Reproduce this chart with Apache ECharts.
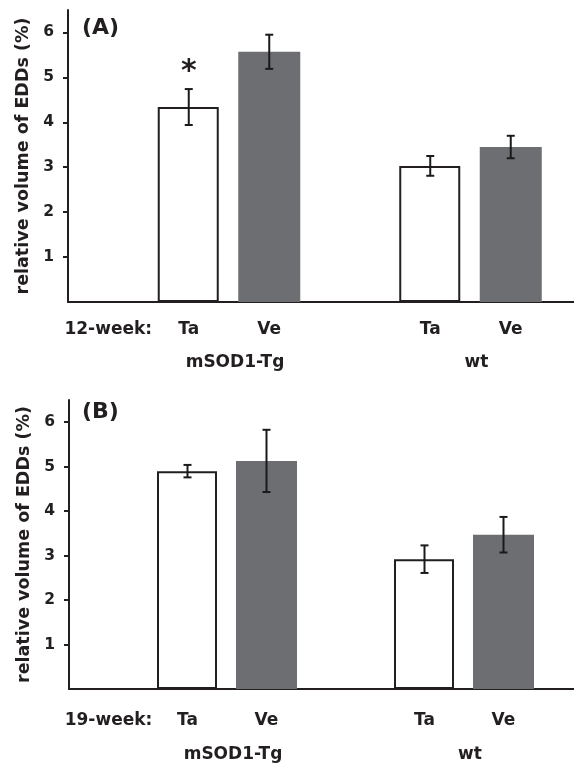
<!DOCTYPE html>
<html>
<head>
<meta charset="utf-8">
<script src="https://cdn.jsdelivr.net/npm/echarts@6/dist/echarts.min.js"></script>
<style>
  html, body { margin: 0; padding: 0; background: #fff; }
  #chart { width: 574px; height: 763px; }
</style>
</head>
<body>
<div id="chart"></div>
<script>
// ---------- data ----------
const panelLabels = ['(A)', '(B)'];
const weekLabels = ['12-week:', '19-week:'];
const groups = ['mSOD1-Tg', 'wt'];
const treatments = ['Ta', 'Ve'];
const yTicks = [1, 2, 3, 4, 5, 6];
const yAxisName = 'relative volume of EDDs (%)';

// panel A (12-week)
const taMeanA = [4.34, 3.03];
const taErrA  = [0.40, 0.22];
const veMeanA = [5.57, 3.45];
const veErrA  = [0.38, 0.25];
const taSigA  = ['*', ''];
const veSigA  = ['', ''];

// panel B (19-week)
const taMeanB = [4.90, 2.92];
const taErrB  = [0.14, 0.31];
const veMeanB = [5.13, 3.47];
const veErrB  = [0.70, 0.40];
const taSigB  = ['', ''];
const veSigB  = ['', ''];

// ---------- styling / layout ----------
const INK = '#231f20';
const GRAY = '#6d6e71';
const FONT = 'DejaVu Sans';
const panels = [
  { week: weekLabels[0], title: panelLabels[0], ta: taMeanA, taE: taErrA, ve: veMeanA, veE: veErrA, taS: taSigA, veS: veSigA,
    grid: { left: 68, top: 10, height: 292, right: 0 }, slotPx: 80.5, titleTop: 17, barWidth: 61, catMargin: 19, grpMargin: 52 },
  { week: weekLabels[1], title: panelLabels[1], ta: taMeanB, taE: taErrB, ve: veMeanB, veE: veErrB, taS: taSigB, veS: veSigB,
    grid: { left: 69, top: 400, height: 290.5, right: 0 }, slotPx: 79, titleTop: 401, barWidth: 60, catMargin: 23, grpMargin: 57 }
];
const CHART_W = 574;

// category slots: week label, then groups separated by a blank slot
function buildCategories(week) {
  const cats = [week];
  groups.forEach((g, gi) => {
    if (gi > 0) cats.push('');
    treatments.forEach(t => cats.push(t));
  });
  return cats;
}

const option = {
  animation: false,
  backgroundColor: '#fff',
  title: [], grid: [], xAxis: [], yAxis: [], series: []
};

panels.forEach((p, pi) => {
  const cats = buildCategories(p.week);
  const catCenters = cats.map((c, i) => i + 0.5);
  const xMax = (CHART_W - p.grid.left) / p.slotPx;   // axis runs to the right edge
  const slots = groups.map((g, gi) => treatments.map((t, ti) => 1 + gi * (treatments.length + 1) + ti));
  const taData = [], veData = [], errData = [], sigs = [];
  groups.forEach((g, gi) => {
    const xt = catCenters[slots[gi][0]], xv = catCenters[slots[gi][1]];
    taData.push([xt, p.ta[gi]]);
    veData.push([xv, p.ve[gi]]);
    errData.push([xt, p.ta[gi], p.taE[gi]]); sigs.push(p.taS[gi]);
    errData.push([xv, p.ve[gi], p.veE[gi]]); sigs.push(p.veS[gi]);
  });
  const groupCenters = slots.map(s => (catCenters[s[0]] + catCenters[s[s.length - 1]]) / 2);

  option.title.push({
    text: p.title, left: 82, top: p.titleTop, padding: 0,
    textStyle: { fontFamily: FONT, fontWeight: 'bold', fontSize: 22, color: INK }
  });
  option.grid.push(Object.assign({ containLabel: false }, p.grid));

  option.xAxis.push({
    type: 'value', gridIndex: pi, position: 'bottom', min: 0, max: xMax,
    axisLine: { show: true, onZero: false, lineStyle: { color: INK, width: 2 } },
    axisTick: { show: false },
    axisLabel: { customValues: catCenters, margin: p.catMargin, color: INK,
      fontFamily: FONT, fontWeight: 'bold', fontSize: 17,
      formatter: v => cats[Math.round(v - 0.5)] || '' },
    splitLine: { show: false }
  });
  option.xAxis.push({
    type: 'value', gridIndex: pi, position: 'bottom', min: 0, max: xMax,
    axisLine: { show: false }, axisTick: { show: false }, splitLine: { show: false },
    axisLabel: {
      customValues: groupCenters, margin: p.grpMargin,
      formatter: v => {
        const gi = groupCenters.findIndex(c => Math.abs(c - v) < 1e-6);
        return gi >= 0 ? '{g|' + groups[gi] + '}' : '';
      },
      rich: { g: { fontFamily: FONT, fontWeight: 'bold', fontSize: 17, color: INK, padding: [0, 0, 0, 12] } }
    }
  });
  option.yAxis.push({
    type: 'value', gridIndex: pi, min: 0, max: 6.5,
    name: yAxisName, nameLocation: 'middle', nameGap: 36, nameRotate: 90,
    nameTextStyle: { fontFamily: FONT, fontWeight: 'bold', fontSize: 17.5, color: INK },
    axisLine: { show: true, lineStyle: { color: INK, width: 2 } },
    axisTick: { show: true, inside: false, length: 5, customValues: yTicks, lineStyle: { color: INK, width: 2 } },
    axisLabel: { customValues: yTicks, margin: 14, color: INK, fontFamily: FONT, fontWeight: 'bold', fontSize: 15.5 },
    splitLine: { show: false }
  });

  const xi = pi * 2;
  option.series.push({
    type: 'bar', name: 'Ta', xAxisIndex: xi, yAxisIndex: pi, data: taData,
    barWidth: p.barWidth, barGap: '-100%',
    itemStyle: { color: '#ffffff', borderColor: INK, borderWidth: 2 }, silent: true
  });
  option.series.push({
    type: 'bar', name: 'Ve', xAxisIndex: xi, yAxisIndex: pi, data: veData,
    barWidth: p.barWidth + 1, barGap: '-100%',
    itemStyle: { color: GRAY }, silent: true
  });
  option.series.push({
    type: 'custom', xAxisIndex: xi, yAxisIndex: pi, z: 10, silent: true,
    data: errData,
    renderItem: (params, api) => {
      const x = api.value(0), m = api.value(1), e = api.value(2);
      const top = api.coord([x, m + e]);
      const bot = api.coord([x, m - e]);
      const hw = 4;
      const ls = { stroke: '#1a1a1a', lineWidth: 2 };
      const children = [
        { type: 'line', shape: { x1: top[0], y1: top[1], x2: bot[0], y2: bot[1] }, style: ls },
        { type: 'line', shape: { x1: top[0] - hw, y1: top[1], x2: top[0] + hw, y2: top[1] }, style: ls },
        { type: 'line', shape: { x1: bot[0] - hw, y1: bot[1], x2: bot[0] + hw, y2: bot[1] }, style: ls }
      ];
      const s = sigs[params.dataIndex];
      if (s) {
        children.push({ type: 'text', style: { text: s, x: top[0], y: top[1] - 17,
          align: 'center', verticalAlign: 'middle', fill: INK,
          font: 'bold 30px "DejaVu Sans"' } });
      }
      return { type: 'group', children };
    }
  });
});

const chart = echarts.init(document.getElementById('chart'), null, { renderer: 'canvas' });
chart.setOption(option);
</script>
</body>
</html>
